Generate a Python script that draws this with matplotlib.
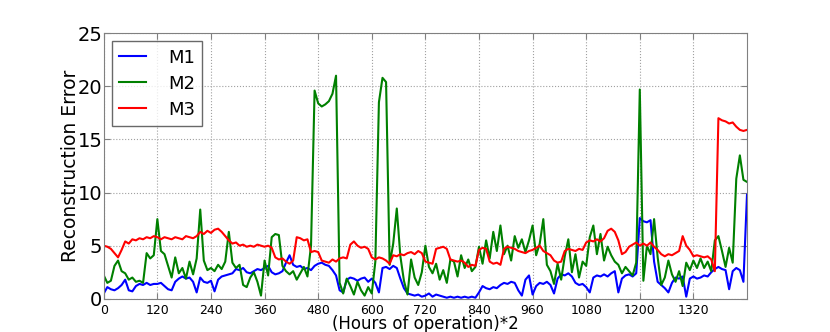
import numpy as np
import matplotlib
matplotlib.use("Agg")
import matplotlib.pyplot as plt

# tiempo de operación (horas*2), una muestra cada 8
hours = np.arange(0, 1441, 8)

m1 = [
    0.5, 1.1, 0.9, 0.8, 1.0, 1.3, 1.8, 0.8, 0.7, 1.2, 1.4, 1.3, 1.5, 1.3, 1.4,
    1.4, 1.5, 1.2, 0.9, 0.8, 1.6, 1.9, 2.1, 1.9, 2.0, 1.6, 0.6, 2.0, 1.6, 1.5,
    1.7, 0.7, 1.8, 2.1, 2.2, 2.3, 2.4, 2.8, 2.7, 2.9, 2.5, 2.4, 2.6, 2.8, 2.7,
    2.9, 3.1, 2.5, 2.3, 2.4, 2.6, 3.4, 4.1, 3.2, 3.0, 3.1, 2.8, 2.9, 2.7, 3.1,
    3.3, 3.4, 3.2, 3.1, 2.7, 2.2, 0.8, 0.6, 1.8, 2.0, 1.9, 1.7, 1.9, 2.0, 1.6,
    1.9, 1.5, 0.6, 2.9, 3.0, 2.8, 3.1, 2.9, 1.9, 1.0, 0.5, 0.4, 0.3, 0.4, 0.2,
    0.3, 0.5, 0.2, 0.4, 0.3, 0.2, 0.1, 0.2, 0.1, 0.2, 0.1, 0.2, 0.1, 0.2, 0.1,
    0.6, 1.2, 1.0, 0.9, 1.1, 1.0, 1.3, 1.5, 1.4, 1.6, 1.5, 0.8, 0.3, 1.8, 2.2,
    0.4, 1.2, 1.5, 1.4, 1.6, 1.3, 0.5, 1.9, 2.3, 2.2, 2.4, 2.1, 1.5, 1.3, 1.4,
    1.1, 0.6, 2.0, 2.2, 2.1, 2.3, 2.1, 2.4, 2.6, 0.6, 1.9, 2.2, 2.3, 2.1, 2.4,
    7.6, 7.3, 7.2, 7.4, 3.5, 1.6, 1.3, 1.0, 0.6, 1.5, 2.0, 1.9, 2.1, 0.2, 1.9,
    2.1, 1.9, 2.0, 2.2, 2.1, 2.5, 2.8, 3.0, 2.8, 2.7, 0.9, 2.6, 2.9, 2.7, 1.6,
    9.8,
]

m2 = [
    2.2, 1.5, 1.7, 3.1, 3.6, 2.6, 2.4, 1.8, 2.0, 1.6, 1.7, 1.5, 4.3, 3.8, 4.1,
    7.5, 4.5, 4.2, 3.1, 2.0, 3.9, 2.4, 2.9, 1.9, 3.5, 2.3, 3.8, 8.4, 3.6, 2.7,
    2.9, 2.6, 3.2, 2.8, 3.5, 6.3, 3.4, 2.9, 3.2, 1.3, 1.1, 2.0, 2.5, 1.6, 0.3,
    3.6, 2.2, 5.8, 6.1, 6.0, 3.1, 2.6, 2.3, 2.6, 1.8, 2.4, 3.0, 2.1, 5.0, 19.6,
    18.4, 18.1, 18.3, 18.6, 19.3, 21.0, 1.5, 0.5, 1.9, 1.2, 0.4, 1.6, 0.8, 0.3, 1.1,
    0.5, 3.5, 18.5, 20.8, 20.4, 3.2, 5.2, 8.5, 4.0, 1.7, 0.4, 3.7, 2.0, 1.3, 2.5,
    5.0, 3.0, 2.4, 3.3, 1.8, 2.7, 1.5, 3.7, 3.5, 2.1, 4.1, 2.9, 3.7, 2.6, 3.0,
    4.9, 3.3, 5.5, 3.8, 6.3, 4.5, 6.9, 4.2, 5.0, 3.6, 5.9, 4.8, 5.6, 4.4, 5.5,
    6.9, 4.1, 5.2, 7.5, 3.2, 2.6, 1.4, 3.3, 1.8, 4.0, 5.6, 2.5, 4.2, 2.0, 3.5,
    3.1, 5.8, 6.9, 4.2, 6.1, 3.6, 4.9, 4.1, 3.5, 3.2, 2.4, 3.0, 2.6, 2.2, 3.4,
    19.7, 1.7, 5.0, 4.2, 7.5, 3.9, 1.3, 2.0, 3.6, 2.3, 1.6, 2.6, 1.2, 3.4, 2.7,
    3.6, 2.9, 3.8, 2.9, 3.5, 2.6, 5.5, 5.9, 4.5, 3.0, 4.8, 3.4, 11.3, 13.5, 11.2,
    11.0,
]

m3 = [
    5.0, 4.9, 4.7, 4.3, 3.9, 4.6, 5.4, 5.2, 5.6, 5.5, 5.7, 5.6, 5.8, 5.7, 5.9,
    5.8, 5.6, 5.8, 5.7, 5.6, 5.8, 5.7, 5.6, 5.9, 5.8, 5.7, 5.9, 6.3, 6.1, 6.4,
    6.2, 6.5, 6.6, 6.3, 5.9, 5.5, 5.2, 5.3, 5.0, 5.1, 4.9, 5.0, 4.9, 5.1, 5.0,
    4.9, 5.0, 4.8, 3.9, 3.7, 3.8, 3.5, 3.3, 3.6, 5.8, 5.7, 5.5, 5.6, 4.4, 4.5,
    4.4, 3.6, 3.5, 3.4, 3.7, 3.5, 3.8, 3.9, 3.8, 5.1, 5.4, 5.0, 4.8, 4.9, 4.7,
    3.9, 3.7, 3.9, 3.8, 3.6, 3.3, 4.1, 4.0, 4.2, 4.1, 4.3, 4.4, 4.2, 4.5, 4.3,
    3.5, 3.4, 3.3, 4.7, 4.8, 4.9, 4.7, 3.7, 3.6, 3.5, 3.6, 3.4, 3.0, 3.2, 3.1,
    4.6, 4.8, 4.7, 3.5, 3.3, 3.4, 3.2, 4.7, 4.9, 4.8, 4.7, 4.5, 4.4, 4.3, 4.5,
    4.6, 4.8, 5.0, 4.5, 4.3, 4.1, 3.6, 3.4, 3.5, 4.5, 4.7, 4.6, 4.5, 4.7, 4.6,
    5.3, 5.5, 5.4, 5.6, 5.4, 5.7, 6.4, 6.6, 6.3, 5.5, 4.2, 4.4, 4.9, 5.1, 5.3,
    5.0, 5.2, 5.0, 5.3, 4.9, 4.6, 4.2, 4.0, 4.2, 4.1, 4.3, 4.5, 5.9, 5.0, 4.6,
    4.0, 4.1, 4.0, 3.9, 4.0, 3.7, 2.6, 17.0, 16.8, 16.7, 16.5, 16.6, 16.2, 15.9, 15.8,
    15.9,
]

fig, ax = plt.subplots(figsize=(8.3, 3.32), dpi=100)
fig.subplots_adjust(left=0.125, right=0.9, bottom=0.1, top=0.9)

ax.plot(hours, m1, color="#0000ff", linewidth=1.5, label="M1")
ax.plot(hours, m2, color="#008000", linewidth=1.5, label="M2")
ax.plot(hours, m3, color="#ff0000", linewidth=1.5, label="M3")

ax.set_xlim(0, 1440)
ax.set_ylim(0, 25)
ax.set_xticks(np.arange(0, 1321, 120))
ax.set_yticks(np.arange(0, 26, 5))
ax.grid(True, linestyle=":", color="#a0a0a0", linewidth=0.8)

for s in ax.spines.values():
    s.set_color("#808080")
ax.tick_params(direction="in", length=4, color="#808080", top=True, right=True)
ax.tick_params(axis="y", labelsize=14, pad=1)
ax.tick_params(axis="x", labelsize=9, pad=3.5)

ax.set_ylabel("Reconstruction Error", fontsize=13.5, labelpad=-1.5)
ax.set_xlabel("(Hours of operation)*2", fontsize=12, labelpad=-1)

leg = ax.legend(loc="upper left", fontsize=13, handlelength=1.5, handletextpad=1.2,
                labelspacing=0.45, borderpad=0.4, fancybox=False, borderaxespad=0.45)
leg.get_frame().set_edgecolor("#444444")
leg.get_frame().set_linewidth(1.0)

plt.savefig("out.png", dpi=100)
